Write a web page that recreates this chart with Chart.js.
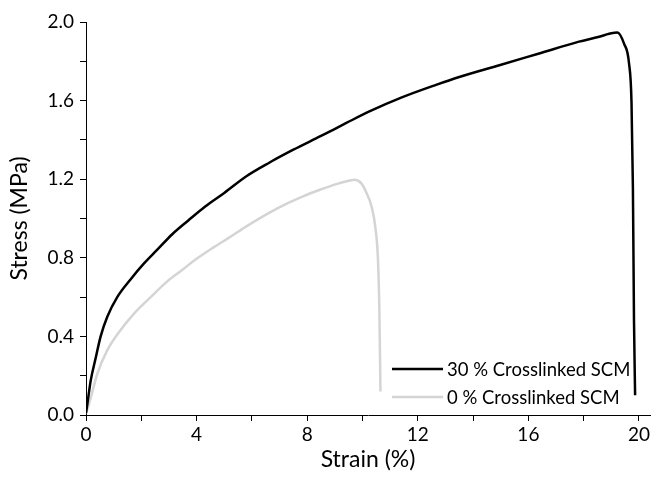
<!DOCTYPE html>
<html>
<head>
<meta charset="utf-8">
<script src="https://cdn.jsdelivr.net/npm/chart.js@4/dist/chart.umd.min.js"></script>
<style>
  html, body { margin: 0; padding: 0; background: #fff; }
  #wrap { width: 652px; height: 477px; }
</style>
</head>
<body>
<div id="wrap"><canvas id="chart"></canvas></div>
<script>
const label30 = '30 % Crosslinked SCM';
const strain30 = [0, 0.05, 0.17, 0.35, 0.53, 0.77, 1.13, 1.61, 2.09, 2.57, 3.12, 3.7, 4.3, 5.0, 5.8, 6.64, 7.5, 8.5, 9.4, 10.25, 11.4, 12.66, 13.5, 14.95, 16.39, 17.83, 18.56, 18.92, 19.22, 19.46, 19.64, 19.73, 19.78, 19.82, 19.86];
const stress30 = [0.01, 0.057, 0.175, 0.29, 0.40, 0.50, 0.60, 0.69, 0.77, 0.84, 0.92, 0.99, 1.06, 1.13, 1.215, 1.285, 1.35, 1.42, 1.485, 1.545, 1.615, 1.68, 1.72, 1.78, 1.84, 1.90, 1.925, 1.94, 1.947, 1.89, 1.79, 1.59, 1.16, 0.48, 0.10];

const label0 = '0 % Crosslinked SCM';
const strain0 = [0, 0.11, 0.41, 0.77, 1.13, 1.73, 2.34, 2.94, 3.5, 3.9, 4.6, 5.2, 5.8, 6.64, 7.3, 7.85, 8.5, 9.05, 9.5, 9.71, 9.95, 10.13, 10.33, 10.47, 10.56, 10.61, 10.65];
const stress0 = [0.01, 0.057, 0.21, 0.33, 0.41, 0.515, 0.60, 0.68, 0.74, 0.785, 0.852, 0.905, 0.96, 1.03, 1.078, 1.113, 1.148, 1.175, 1.192, 1.197, 1.18, 1.135, 1.06, 0.95, 0.79, 0.535, 0.12];

const xTitle = 'Strain (%)';
const yTitle = 'Stress (MPa)';

function toPoints(xs, ys) {
    return xs.map((x, i) => ({ x: x, y: ys[i] }));
}

// legend drawn inside the plot, bottom right
const insideLegend = {
    id: 'insideLegend',
    afterDraw(chart) {
        const ctx = chart.ctx;
        const rows = [369, 397];
        ctx.save();
        ctx.font = '18.5px Lato';
        ctx.textBaseline = 'middle';
        chart.data.datasets.forEach((ds, i) => {
            const y = rows[i];
            ctx.strokeStyle = ds.borderColor;
            ctx.lineWidth = ds.borderWidth;
            ctx.beginPath();
            ctx.moveTo(392, y);
            ctx.lineTo(443, y);
            ctx.stroke();
            ctx.fillStyle = '#000';
            ctx.fillText(ds.label, 447, y + 1);
        });
        ctx.restore();
    }
};

const ctx = document.getElementById('chart');
new Chart(ctx, {
    type: 'scatter',
    data: {
        datasets: [{
            label: label30,
            data: toPoints(strain30, stress30),
            showLine: true,
            borderColor: '#000000',
            borderWidth: 2.5,
            pointRadius: 0,
            cubicInterpolationMode: 'monotone'
        }, {
            label: label0,
            data: toPoints(strain0, stress0),
            showLine: true,
            borderColor: '#d4d4d4',
            borderWidth: 2.5,
            pointRadius: 0,
            cubicInterpolationMode: 'monotone'
        }]
    },
    options: {
        responsive: true,
        maintainAspectRatio: false,
        animation: false,
        layout: {
            padding: { top: 22, right: 0, left: 0, bottom: 0 }
        },
        plugins: {
            legend: { display: false },
            tooltip: { enabled: false }
        },
        scales: {
            x: {
                type: 'linear',
                min: 0,
                max: 20.4,
                afterFit: function (scale) { scale.height = 62; },
                border: { display: true, color: '#000', width: 1 },
                grid: {
                    display: true,
                    drawOnChartArea: false,
                    tickLength: 6,
                    tickColor: '#000'
                },
                ticks: {
                    stepSize: 2,
                    includeBounds: false,
                    autoSkip: false,
                    maxRotation: 0,
                    padding: 2,
                    color: '#000',
                    font: { family: 'Lato', size: 19 },
                    callback: function (v) { return Math.round(v) % 4 === 0 ? String(Math.round(v)) : ''; }
                },
                title: {
                    display: true,
                    text: xTitle,
                    color: '#000',
                    font: { family: 'Lato', size: 23 },
                    padding: { top: 0, bottom: 4 }
                }
            },
            y: {
                type: 'linear',
                min: 0,
                max: 2.0,
                afterFit: function (scale) { scale.width = 86; },
                border: { display: true, color: '#000', width: 1 },
                grid: {
                    display: true,
                    drawOnChartArea: false,
                    tickLength: 6,
                    tickColor: '#000'
                },
                ticks: {
                    stepSize: 0.2,
                    autoSkip: false,
                    padding: 6,
                    color: '#000',
                    font: { family: 'Lato', size: 19 },
                    callback: function (v) { return Math.round(v * 10) % 4 === 0 ? v.toFixed(1) : ''; }
                },
                title: {
                    display: true,
                    text: yTitle,
                    color: '#000',
                    font: { family: 'Lato', size: 23 },
                    padding: { top: 6, bottom: 0 }
                }
            }
        }
    },
    plugins: [insideLegend]
});
</script>
</body>
</html>
